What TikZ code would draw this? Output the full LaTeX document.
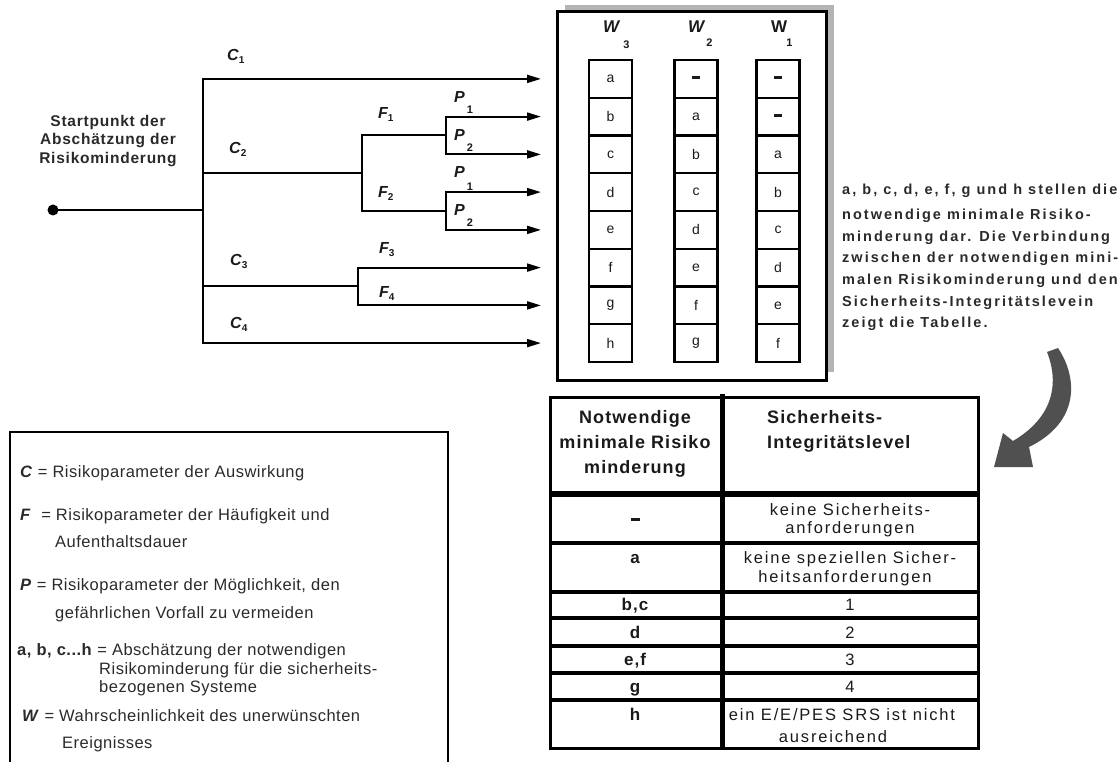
\documentclass[tikz,border=0pt]{standalone}
\usepackage{fontspec}
\setmainfont{Liberation Sans}[LetterSpace=5]
\usetikzlibrary{arrows.meta}
\definecolor{txt}{HTML}{1A1A1A}
\definecolor{ltxt}{HTML}{2A2A2A}
\definecolor{shadowgray}{HTML}{B4B4B4}
\definecolor{arrowgray}{HTML}{505050}
\newcommand{\cdash}{\rule[2.5pt]{8pt}{2.6pt}}
\tikzset{
  tline/.style={line width=2pt, line cap=rect},
  arr/.style={line width=2pt, -{Triangle[length=14pt,width=8pt]}},
  lbl/.style={anchor=base west, inner sep=0pt, text=txt, font=\fontsize{16}{18}\selectfont\bfseries\itshape},
  cell/.style={draw, line width=2.2pt, minimum width=43pt, minimum height=37.75pt, inner sep=0pt, text=txt, font=\fontsize{14}{15}\selectfont},
  whead/.style={anchor=base west, inner sep=0pt, text=txt, font=\fontsize{17}{18}\selectfont\bfseries},
  legend/.style={anchor=base west, inner sep=0pt, text=ltxt, font=\fontsize{16.5}{18}\selectfont\addfontfeature{LetterSpace=3}},
  para/.style={anchor=base west, inner sep=0pt, text=ltxt, font=\fontsize{14.5}{16}\selectfont\bfseries\addfontfeature{LetterSpace=14}},
  thead/.style={inner sep=0pt, text=txt, font=\fontsize{18}{19}\selectfont\bfseries\addfontfeature{LetterSpace=6}},
  tbody/.style={inner sep=0pt, text=txt, font=\fontsize{16.5}{18}\selectfont\addfontfeature{LetterSpace=11}},
  tbold/.style={inner sep=0pt, text=txt, font=\fontsize{17}{18}\selectfont\bfseries\addfontfeature{LetterSpace=6}},
}
\begin{document}
\begin{tikzpicture}[x=1pt, y=-1pt]
\useasboundingbox (0,0) rectangle (1120,762);

% ---------------- decision tree ----------------
\node[circle, fill=black, inner sep=0pt, minimum size=11pt] (start) at (53,210) {};
\node[align=center, text=ltxt, font=\fontsize{15.5}{18.5}\selectfont\bfseries\addfontfeature{LetterSpace=5}] (starttxt) at (108,141) {Startpunkt der\\Abschätzung der\\Risikominderung};

\coordinate (J0) at (203,210);
\coordinate (c1) at (203,78.9);
\coordinate (c4) at (203,343.1);
\coordinate (c2) at (203,173.25);
\coordinate (c3) at (203,286.5);
\coordinate (f12) at (362,173.25);
\coordinate (f1) at (362,135.5);
\coordinate (f2) at (362,211);
\coordinate (p1) at (446,135.5);
\coordinate (p2) at (446,211);
\coordinate (q1) at (446,116.6);
\coordinate (q2) at (446,154.4);
\coordinate (q3) at (446,192.1);
\coordinate (q4) at (446,229.9);
\coordinate (g0) at (358,286.5);
\coordinate (g1) at (358,267.6);
\coordinate (g2) at (358,305.4);
\coordinate (e1) at (541,78.9);
\coordinate (e2) at (541,116.6);
\coordinate (e3) at (541,154.4);
\coordinate (e4) at (541,192.1);
\coordinate (e5) at (541,229.9);
\coordinate (e6) at (541,267.6);
\coordinate (e7) at (541,305.4);
\coordinate (e8) at (541,343.1);

\draw[tline] (start.center) -- (J0);
\draw[tline] (c1) -- (c4);
\draw[tline] (c2) -- (f12);
\draw[tline] (f1) -- (f2);
\draw[tline] (f1) -- (p1);
\draw[tline] (f2) -- (p2);
\draw[tline] (q1) -- (q2);
\draw[tline] (q3) -- (q4);
\draw[tline] (c3) -- (g0);
\draw[tline] (g1) -- (g2);
\draw[arr] (c1) -- (e1);
\draw[arr] (q1) -- (e2);
\draw[arr] (q2) -- (e3);
\draw[arr] (q3) -- (e4);
\draw[arr] (q4) -- (e5);
\draw[arr] (g1) -- (e6);
\draw[arr] (g2) -- (e7);
\draw[arr] (c4) -- (e8);

\node[lbl] (lc1) at (227,61) {C{\fontsize{10}{10}\selectfont\upshape\raisebox{-3pt}{1}}};
\node[lbl] (lc2) at (229,154) {C{\fontsize{10}{10}\selectfont\upshape\raisebox{-3pt}{2}}};
\node[lbl] (lc3) at (230,266) {C{\fontsize{10}{10}\selectfont\upshape\raisebox{-3pt}{3}}};
\node[lbl] (lc4) at (230,328) {C{\fontsize{10}{10}\selectfont\upshape\raisebox{-3pt}{4}}};
\node[lbl] (lf1) at (378,119) {F{\fontsize{10}{10}\selectfont\upshape\raisebox{-3pt}{1}}};
\node[lbl] (lf2) at (378,198) {F{\fontsize{10}{10}\selectfont\upshape\raisebox{-3pt}{2}}};
\node[lbl] (lf3) at (379,254) {F{\fontsize{10}{10}\selectfont\upshape\raisebox{-3pt}{3}}};
\node[lbl] (lf4) at (379,298) {F{\fontsize{10}{10}\selectfont\upshape\raisebox{-3pt}{4}}};
\node[lbl] (lp1) at (454,103) {P\kern2pt{\fontsize{11}{11}\selectfont\upshape\raisebox{-11pt}{1}}};
\node[lbl] (lp2) at (454,141) {P\kern2pt{\fontsize{11}{11}\selectfont\upshape\raisebox{-11pt}{2}}};
\node[lbl] (lp3) at (454,178) {P\kern2pt{\fontsize{11}{11}\selectfont\upshape\raisebox{-13pt}{1}}};
\node[lbl] (lp4) at (454,216) {P\kern2pt{\fontsize{11}{11}\selectfont\upshape\raisebox{-11pt}{2}}};

% ---------------- W table ----------------
\fill[shadowgray] (565,5) rectangle (834,372);
\node[draw, line width=3pt, fill=white, minimum width=269pt, minimum height=368pt, inner sep=0pt] (wbox) at (691.5,196) {};
\node[whead] (hw3) at (603,33) {\itshape W\kern4pt{\fontsize{11}{11}\selectfont\upshape\raisebox{-16pt}{3}}};
\node[whead] (hw2) at (688,33) {\itshape W\kern2pt{\fontsize{11}{11}\selectfont\upshape\raisebox{-14pt}{2}}};
\node[whead] (hw1) at (771,33) {W\kern-1pt{\fontsize{11}{11}\selectfont\raisebox{-14pt}{1}}};
\foreach \t [count=\i] in {a,b,c,d,e,f,g,h}
  \node[cell] (wa\i) at (610.5,{41.125+37.75*\i}) {\t};
\foreach \t [count=\i] in {\cdash,a,b,c,d,e,f,g}
  \node[cell] (wb\i) at (696,{41.125+37.75*\i}) {\t};
\foreach \t [count=\i] in {\cdash,\cdash,a,b,c,d,e,f}
  \node[cell] (wc\i) at (778,{41.125+37.75*\i}) {\t};

% ---------------- right paragraph ----------------
\node[para] (p1t) at (842,195) {a, b, c, d, e, f, g und h stellen die};
\node[para] (p2t) at (842,220) {notwendige minimale Risiko-};
\node[para] (p3t) at (842,242) {minderung dar. Die Verbindung};
\node[para] (p4t) at (842,263) {zwischen der notwendigen mini-};
\node[para] (p5t) at (842,285) {malen Risikominderung und den};
\node[para] (p6t) at (842,307) {Sicherheits-Integritätslevein};
\node[para] (p7t) at (842,327) {zeigt die Tabelle.};

% curved arrow
\fill[arrowgray] (1047,352) -- (1058,348)
  .. controls (1078,378) and (1080,422) .. (1029,447)
  -- (1033,467) -- (994,467) -- (1003,433) -- (1013,441)
  .. controls (1052,418) and (1060,385) .. (1047,352) -- cycle;

% ---------------- legend ----------------
\draw[line width=2.5pt] (10,765) -- (10,432) -- (448,432) -- (448,765);
\node[legend] (l1) at (20,477) {\textbf{\textit{C}} = Risikoparameter der Auswirkung};
\node[legend] (l2) at (20,520) {\textbf{\textit{F}}\ \ = Risikoparameter der Häufigkeit und};
\node[legend] (l3) at (55,547) {Aufenthaltsdauer};
\node[legend] (l4) at (20,590) {\textbf{\textit{P}} = Risikoparameter der Möglichkeit, den};
\node[legend] (l5) at (55,618) {gefährlichen Vorfall zu vermeiden};
\node[legend] (l6) at (17,655) {\textbf{a, b, c...h} = Abschätzung der notwendigen};
\node[legend] (l7) at (99,674) {Risikominderung für die sicherheits-};
\node[legend] (l8) at (99,692) {bezogenen Systeme};
\node[legend] (l9) at (22,721) {\textbf{\textit{W}}\ = Wahrscheinlichkeit des unerwünschten};
\node[legend] (l10) at (62,748) {Ereignisses};

% ---------------- SIL table ----------------
\draw[line width=3pt] (550,397) rectangle (978,748);
\draw[line width=5pt] (722,394) -- (722,748);
\draw[line width=6pt] (550,493.5) -- (978,493.5);
\foreach \yy in {542.5,591.5,618,645.5,673,700}
  \draw[line width=4pt] (550,\yy) -- (978,\yy);

\node[thead, anchor=base] (h1) at (635,423) {Notwendige};
\node[thead, anchor=base] (h2) at (635,448) {minimale Risiko};
\node[thead, anchor=base] (h3) at (635,473) {minderung};
\node[thead, anchor=base west] (h4) at (767,423) {Sicherheits-};
\node[thead, anchor=base west] (h5) at (767,448) {Integritätslevel};

\node[tbold] (r1a) at (635,519) {\rule{9pt}{3pt}};
\node[tbody, anchor=base] (r1b) at (850,515.5) {keine Sicherheits-};
\node[tbody, anchor=base] (r1c) at (850,533.5) {anforderungen};
\node[tbold, anchor=base] (r2a) at (635,563.5) {a};
\node[tbody, anchor=base] (r2b) at (850,563.5) {keine speziellen Sicher-};
\node[tbody, anchor=base] (r2c) at (845,582.5) {heitsanforderungen};
\node[tbold, anchor=base] (r3a) at (635,610.5) {b,c};
\node[tbody, anchor=base] (r3b) at (850,610.5) {1};
\node[tbold, anchor=base] (r4a) at (635,638.5) {d};
\node[tbody, anchor=base] (r4b) at (850,638.5) {2};
\node[tbold, anchor=base] (r5a) at (635,665.5) {e,f};
\node[tbody, anchor=base] (r5b) at (850,665.5) {3};
\node[tbold, anchor=base] (r6a) at (635,692.5) {g};
\node[tbody, anchor=base] (r6b) at (850,692.5) {4};
\node[tbold, anchor=base] (r7a) at (635,720.5) {h};
\node[tbody, anchor=base] (r7b) at (842,720.5) {ein E/E/PES SRS ist nicht};
\node[tbody, anchor=base] (r7c) at (833,742.5) {ausreichend};
\end{tikzpicture}
\end{document}
